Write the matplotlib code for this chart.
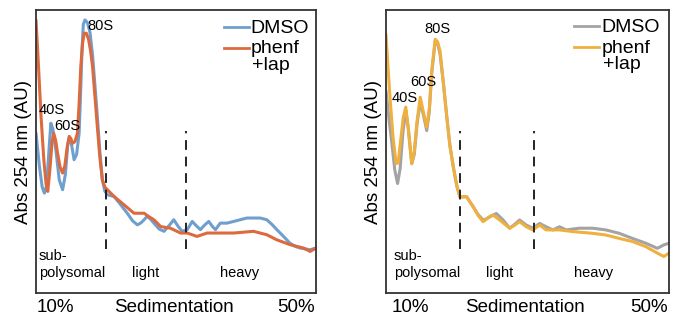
import matplotlib
matplotlib.use('Agg')
import matplotlib.pyplot as plt

plt.rcParams['font.family'] = ['Liberation Sans', 'DejaVu Sans']

# ---- data (x = position along gradient, y = Abs, both 0-100) ----
# left panel
dmso_l_x = [0, 1.2, 2.2, 3.0, 3.8, 4.6, 5.3, 6.0, 7.1, 8.3, 9.5, 10.5, 11.3, 11.9, 12.6, 13.6, 14.5,
            15.4, 15.9, 16.4, 16.9, 17.5, 18.4, 19.3, 20.2, 21.0, 21.9, 22.8, 23.7, 24.6, 25.5,
            27.9, 30.0, 32.6, 34.5, 36.2, 37.5, 38.6, 39.7, 41.0, 42.1, 44.0, 45.7, 47.5, 49.2,
            50.8, 52.2, 54.0, 55.8, 57.2, 58.7, 60.2, 61.7, 63.0, 64.1, 65.8, 68.2, 70.6, 75.3,
            80.1, 82.4, 84.2, 86.0, 88.4, 90.7, 92.5, 94.3, 97.9, 100]
dmso_l_y = [56.5, 45, 37.5, 35.3, 38, 50, 60.0, 58, 50.6, 40, 36.5, 42, 52, 55.3, 53, 47.1, 49,
            56.5, 70, 85, 95, 96.5, 95.5, 92, 84, 74, 62.4, 50, 40.0, 36, 34.7,
            34.1, 31.5, 28.2, 25.5, 24.1, 24.8, 25.9, 27.1, 26, 24.7, 22.6, 21.8, 23.8, 25.9,
            23.5, 21.8, 22.4, 25.3, 23.8, 22.4, 24, 25.3, 23.5, 22.4, 24.7, 24.7, 25.3, 26.5,
            26.5, 25.9, 24.3, 22.4, 20, 17.6, 16.5, 15.9, 15.3, 15.9]
drug_l_x = [0, 0.9, 1.8, 2.8, 3.6, 4.2, 5.0, 5.7, 6.3, 7.0, 7.7, 8.6, 9.5, 10.3, 11.2, 11.9, 12.5,
            13.0, 13.9, 14.8, 15.4, 16.0, 16.6, 17.2, 18.0, 18.8, 19.5, 20.2, 21.0, 21.9, 22.8,
            23.7, 24.6, 25.5, 27.9, 31.4, 35.0, 38.6, 40.3, 42.1, 44.5, 48.0, 51.6, 54.0, 57.5,
            61.1, 65.8, 70.6, 77.7, 82.4, 86.0, 90.7, 95.5, 97.9, 100]
drug_l_y = [96.5, 80, 62.4, 47, 38.5, 35.9, 44, 53, 56.5, 54, 49.4, 44.5, 42.4, 45, 52, 55.3, 54.5,
            52.9, 53.5, 56.5, 67, 80.0, 88, 91.8, 91.8, 89.5, 85.5, 80.0, 70, 58.8, 48,
            40.0, 37.4, 36.5, 34.1, 31.2, 28.2, 28.2, 27, 25.9, 23.5, 22.9, 21.2, 21.2, 20.0,
            21.2, 21.2, 21.2, 21.8, 20.6, 18.8, 17.1, 15.9, 14.7, 15.9]
# right panel
dmso_r_x = [0, 1.0, 2.1, 3.1, 4.1, 5.0, 6.0, 7.0, 7.9, 9.1, 10.0, 11.0, 12.1, 13.2, 14.4, 15.3,
            16.2, 17.4, 18.2, 19.1, 20.3, 21.5, 22.6, 23.8, 25.0, 26.1, 28.5, 30.8, 32.5, 34.3,
            35.5, 36.7, 39.0, 41.4, 43.7, 45.5, 47.2, 49.6, 51.9, 54.3, 56.6, 59.0, 61.3, 63.7,
            68.3, 73.0, 77.7, 82.4, 87.1, 91.8, 95.9, 98.2, 100]
dmso_r_y = [71.5, 62, 52.8, 43.5, 38.7, 44, 57, 64.5, 58, 45.7, 49, 60, 67.4, 63, 57.4, 64,
            78, 89.1, 88.5, 84.4, 74, 62.1, 52, 44.5, 38, 34.0, 34.0, 30.5, 27.8, 25.8,
            26.2, 27.0, 28.1, 25.8, 22.9, 24.3, 25.8, 24.0, 22.9, 24.6, 23.4, 22.3, 23.4, 22.3,
            22.9, 22.9, 22.3, 21.1, 19.3, 17.6, 15.8, 17.0, 17.6]
drug_r_x = [0, 0.7, 1.5, 2.5, 3.6, 4.3, 5.2, 6.1, 7.0, 7.9, 9.1, 10.0, 11.0, 12.1, 13.2, 14.4,
            15.3, 16.2, 17.4, 18.2, 19.1, 20.3, 21.5, 22.6, 23.8, 25.0, 26.1, 28.5, 30.8, 32.5,
            34.3, 36.0, 37.9, 40.2, 43.7, 45.5, 47.2, 49.6, 51.9, 54.3, 56.6, 61.3, 66.0, 73.0,
            77.7, 82.4, 87.1, 91.8, 95.9, 98.2, 100]
drug_r_y = [91.4, 80, 68.0, 55, 45.7, 46, 54, 62, 65.7, 58, 45.7, 50, 61, 69.2, 64, 58.6,
            65, 79, 89.7, 88.8, 85.6, 74, 62.1, 52, 44.5, 38, 34.0, 34.0, 30.5, 27.5,
            25.2, 26.5, 27.5, 25.8, 22.9, 24, 25.2, 23.4, 22.3, 24.0, 22.3, 22.3, 21.7, 21.1,
            20.5, 19.3, 18.2, 16.4, 14.1, 12.9, 14.1]

# fraction boundaries (dashed lines)
bounds_l = [24.9, 53.4]
bounds_r = [26.1, 52.3]
dash_y = (15.5, 57.3)

fig = plt.figure(figsize=(6.78, 3.29), dpi=100)
ax1 = fig.add_axes([0.0531, 0.1094, 0.413, 0.860])
ax2 = fig.add_axes([0.5693, 0.1094, 0.4174, 0.860])


def panel(ax, xa, ya, xb, yb, ca, cb, bounds, peaks, leg_pos, lbl_pos):
    ax.plot(xa, ya, color=ca, lw=2.2, solid_joinstyle='round', solid_capstyle='round')
    ax.plot(xb, yb, color=cb, lw=2.2, solid_joinstyle='round', solid_capstyle='round')
    for b in bounds:
        ax.plot([b, b], dash_y, color='#222222', lw=1.4, dashes=(5, 3.5))
    ax.set_xlim(0, 100)
    ax.set_ylim(0, 100)
    ax.set_xticks([])
    ax.set_yticks([])
    for s in ax.spines.values():
        s.set_linewidth(1.3)
        s.set_color('#333333')

    # peak labels
    for txt, px, py in peaks:
        ax.text(px, py, txt, transform=ax.transAxes, fontsize=10.5, ha='left', va='center')

    # legend drawn by hand
    lx0, lx1, ly1, ly2 = leg_pos
    ax.plot([lx0, lx1], [ly1, ly1], color=ca, lw=2.0, transform=ax.transAxes)
    ax.plot([lx0, lx1], [ly2, ly2], color=cb, lw=2.0, transform=ax.transAxes)
    ax.text(lx1 + 0.008, ly1 - 0.006, 'DMSO', transform=ax.transAxes, fontsize=14, va='center')
    ax.text(lx1 + 0.008, ly2 - 0.004, 'phenf', transform=ax.transAxes, fontsize=14, va='center')
    ax.text(lx1 + 0.013, ly2 - 0.062, '+lap', transform=ax.transAxes, fontsize=14, va='center')

    # fraction labels
    sx, lgx, hx = lbl_pos
    ax.text(sx, 0.132, 'sub-', transform=ax.transAxes, fontsize=10.5, va='center')
    ax.text(sx, 0.071, 'polysomal', transform=ax.transAxes, fontsize=10.5, va='center')
    ax.text(lgx, 0.071, 'light', transform=ax.transAxes, fontsize=10.5, va='center')
    ax.text(hx, 0.071, 'heavy', transform=ax.transAxes, fontsize=10.5, va='center')

    # axis texts
    ax.text(sx - 0.006, -0.05, '10%', transform=ax.transAxes, fontsize=13.5, va='center')
    ax.text(0.28, -0.05, 'Sedimentation', transform=ax.transAxes, fontsize=13.5, va='center')
    ax.text(0.995, -0.05, '50%', transform=ax.transAxes, fontsize=13.5, va='center', ha='right')
    ax.set_ylabel('Abs 254 nm (AU)', fontsize=13.5, labelpad=3)


panel(ax1, dmso_l_x, dmso_l_y, drug_l_x, drug_l_y, '#6f9fcf', '#dd6a3c', bounds_l,
      [('80S', 0.184, 0.944), ('40S', 0.01, 0.647), ('60S', 0.065, 0.59)],
      (0.67, 0.759, 0.941, 0.867), (0.01, 0.342, 0.658))
panel(ax2, dmso_r_x, dmso_r_y, drug_r_x, drug_r_y, '#a3a3a3', '#f0b040', bounds_r,
      [('80S', 0.135, 0.932), ('60S', 0.086, 0.747), ('40S', 0.021, 0.689)],
      (0.666, 0.754, 0.944, 0.868), (0.027, 0.355, 0.666))

fig.savefig('out.png', dpi=100)
